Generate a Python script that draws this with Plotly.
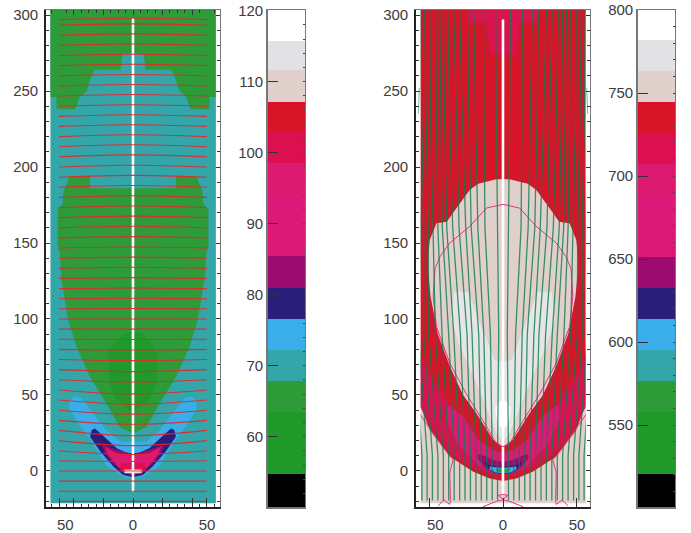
import plotly.graph_objects as go

# ---------- data ----------
BAND_COLORS = ["#000000", "#1f9a2a", "#1f9a2a", "#2d9c38", "#33a6a9", "#3aaeea", "#291f7b", "#9c0c6f",
               "#dc1a75", "#dc1a78", "#dc1a70", "#dc1050", "#d81428", "#e0d0cb", "#e2e2e4", "#ffffff"]
CB1_EDGES = [50.1, 54.75, 59.1, 63.5, 67.9, 72.2, 76.6, 81.0, 85.4, 89.7, 94.1, 98.5, 102.9, 107.2, 111.6, 115.8, 120.1]
CB2_EDGES = [500.6, 520.4, 539.1, 557.8, 576.5, 595.2, 613.8, 632.5, 651.2, 669.9, 688.6, 707.2, 725.9, 744.6, 763.3, 781.8, 800.0]
CB1_TICKS = [60, 70, 80, 90, 100, 110, 120]
CB2_TICKS = [550, 600, 650, 700, 750, 800]
XTICKS = [-50, -40, -20, 0, 20, 40, 50]
XTEXT = ["\u00a0\u00a0\u00a050", "", "", "0", "", "", "50"]
XTEXT_R = ["\u00a0\u00a0\u00a050", "0", "50"]

# Half outlines (x, y) of the symmetric regions; each is mirrored about x = 0.
L_GREEN_TOP = [(0, 304), (-55.8, 304), (-55.8, 246), (-51.7, 246), (-51.7, 238), (-39.2, 238), (-35.9, 246),
               (-31.4, 250), (-28, 260), (-25.8, 264), (-8.4, 264), (-7.7, 271), (-6.6, 274.5), (0, 274.5)]
L_GREEN_MID = [(0, 186), (-29, 186), (-29, 194), (-42.6, 194), (-47, 184), (-47.4, 176), (-51, 172), (-51, 148),
               (-49.5, 143), (-48.3, 125.6), (-43.8, 99.4), (-38.2, 81.8), (-29.2, 62), (-18, 44.6), (-9, 29),
               (-2.3, 25.6), (0, 25.2)]
L_GREEN_CORE = [(0, 91.7), (-5, 91), (-11.2, 86), (-16.9, 77.4), (-15.8, 57.6), (-11.2, 46.9), (-2.3, 40), (0, 40)]
L_SKY = [(0, 19.3), (-9, 19.3), (-18, 27), (-27, 38), (-35, 48), (-39, 49), (-43, 46), (-42.7, 40.5), (-36, 29.7),
         (-29, 20.8), (-18, 3.5), (-6.8, -3.7), (0, -5)]
L_NAVY = [(0, 11.6), (-4.3, 12), (-11, 14.9), (-20, 23), (-25.7, 28), (-27.9, 27), (-29, 22.6), (-22, 12.7),
          (-13.3, 2.9), (-6.6, -2.6), (0, -4.2)]
L_PURPLE = [(0, 11), (-11, 13.9), (-21, 17.4), (-19, 11.6), (-13.3, 5), (-6.6, -0.5), (0, -3.3)]
L_PINK = [(0, 10), (-11, 11.6), (-19, 16), (-16.7, 10.5), (-10, 2.8), (-5.5, -1), (0, -2.6)]
L_CRIMSON = [(0, 5.6), (-7.7, 5), (-9, 2), (-6.6, -1), (0, -2)]
L_BEIGE = [(0, 1), (-5.9, 1), (-5.9, -1.5), (0, -1.5)]
L_WHITE = [(0, 0.3), (-4.7, 0.3), (-4.7, -0.9), (0, -0.9)]

R_RED = [(0, 304), (-55.8, 304), (-55.8, 43.4), (-49.5, 27), (-36, 9.5), (-20.3, -0.4), (-9, -4.9), (0, -6.6)]
R_TOP = [(0, 274), (-9, 274), (-9, 284), (-11, 284), (-11, 295), (-23.6, 295), (-23.6, 304), (0, 304)]
R_CRIMSON = [(0, -4), (-9, -2.5), (-24.7, 4), (-36.7, 13.8), (-50, 31.6), (-55.8, 42), (-55.8, 74), (-47.7, 60),
             (-36.7, 44.7), (-25, 31.6), (-16.4, 20.4), (-8, 12), (0, 10.5)]
R_PINK = [(0, 12), (-7, 14), (-16, 20), (-27, 36), (-37, 43.4), (-39, 36), (-31, 18.3), (-16, 3), (-2, -1), (0, -1)]
R_LENS = [(0, 16), (-6.7, 20.6), (-18, 38), (-27, 50), (-36, 69), (-44, 90), (-49, 115), (-50.6, 132), (-50.6, 141),
          (-49.5, 152), (-45, 163), (-38, 164), (-31.4, 173), (-22.4, 185), (-16.8, 189), (-4.5, 192), (0, 192)]
R_GRAY = [(0, 20), (-4.5, 25), (-9, 36), (-19, 60), (-30, 84), (-35, 100), (-33, 118), (-23.6, 118), (-14.6, 95),
          (-5.6, 73), (0, 72)]
R_WHITE = [(0, 28), (-3, 30), (-5, 38), (-5, 42), (-2, 46), (0, 46)]
R_PURPLE = [(0, 6), (-6, 7), (-13, 10), (-17, 11), (-17, 8), (-12, 2), (-6, -1), (0, -2)]
R_NAVY = [(0, 3), (-4, 3), (-9, 4), (-12.5, 6.5), (-12, 4), (-8, 0), (-4, -1.5), (0, -2)]
R_SKY = [(0, 2), (-5, 2.5), (-9, 3), (-9, 1), (-5, -1), (0, -1.5)]
R_GREEN = [(0, 1.5), (-5, 1.5), (-4, 0), (-2, -1), (0, -1)]

CONTOUR_MAIN = [(0, 16), (-4.5, 18), (-11, 29), (-25, 51), (-36, 71), (-45, 95), (-47.2, 115), (-46, 133), (-42.6, 141),
                (-36, 150), (-22.4, 161), (-11.2, 173), (0, 175.4)]
CONTOUR_SIDE = [(-56.7, 38), (-47, 25), (-40.5, 15.6), (-33.7, 7.4), (-36, -1.2), (-35.5, -18.9), (-36, -22),
                (-40, -19), (-44, -23)]
CONTOUR_FOOT = [(-13.5, -23.5), (-4.5, -20), (0, -19)]
CONTOUR_CAP = [(0, -18.5), (-3.4, -16), (0, -15.5)]
EDGE_ARC = [(-57.2, 235), (-56.6, 252)]

# Red (left panel) lines: height at x = +-50 and height at x = 0.
RED_EDGE = [-20, -13.3, -6.7, 0, 6.7, 13.3, 20, 26.7, 33.3, 40, 46.7, 53.3, 60, 66.7, 73.3, 80, 86.7, 93.3, 100,
            106.7, 113.3, 120, 126.7, 133.3, 140, 146.7, 153.3, 160, 166.7, 173.3, 180, 186.7, 193.3, 200, 206.7,
            213.3, 220, 226.7, 233.3, 240, 246.7, 253.3, 260, 266.7, 273.3, 280, 286.7, 293.3, 297]
RED_CENTER = [-20, -13.3, -6.7, 0, 6.3, 10.8, 16.7, 23.2, 30.7, 37.4, 43.9, 50.7, 58.5, 65.4, 72.6, 79.6, 86.5, 93.3,
              100, 106.9, 113.6, 120.4, 127.2, 134, 140.7, 147.4, 154.2, 161, 167.7, 174.3, 181.1, 187.8, 194.5,
              201.2, 208, 214.6, 221.2, 227.8, 234.4, 241, 247.7, 254.3, 260.9, 267.6, 274.2, 280.9, 287.6, 294.2, 297.9]

# Green (right panel) lines: x at each height, for the left half.
GREEN_Y = [-19.5, 10, 90, 160, 232, 304]
GREEN_X = [
    [-3.7, -3.7, -2.9, -3.9, -4.5, -5],
    [-7.3, -7.3, -8.5, -12.2, -12.8, -13.2],
    [-11, -11, -13, -17, -18.5, -19.8],
    [-14.7, -14.7, -16.4, -21.5, -23, -24],
    [-18.3, -18.3, -20.9, -25.2, -27.5, -29.3],
    [-22, -22, -24.3, -29.7, -31.5, -33.3],
    [-25.7, -25.7, -28.8, -34, -36, -37.4],
    [-29.3, -29.3, -33.3, -38, -39.5, -40.3],
    [-33, -33, -36.7, -41, -42, -42.8],
    [-36.7, -36.7, -41.2, -44, -45, -45.5],
    [-40.3, -40.3, -45.7, -47.5, -49, -49.5],
    [-44, -44, -50.2, -50.5, -52, -53],
    [-47.7, -47.7, -53.6, -53.5, -55, -55.6],
    [-51.3, -51.3, -57, -56, -57.5, -58],
    [-54.8, -54.8, -60, -59, -59.5, -60],
]

# ---------- layout constants ----------
W, H = 691, 533
TOP, BOT = 10, 507
XR, YR = [-58.8, 58.8], [-23.7, 303.3]
FONT = "Liberation Sans, Arial, sans-serif"
TXT = "#3c3c3c"
TEAL, GREEN2, GREEN1, SKY, NAVY, PURPLE, PINK, CRIMSON, RED, BEIGE, GRAY = (
    "#33a6a9", "#2d9c38", "#1f9a2a", "#3aaeea", "#291f7b", "#9c0c6f", "#dc1a75", "#dc1050", "#d81428", "#e0d0cb", "#e5e6e7")


def mirrored(half):
    xs = [p[0] for p in half] + [-p[0] for p in reversed(half)]
    ys = [p[1] for p in half] + [p[1] for p in reversed(half)]
    return xs, ys


def area(fig, half, color, axis):
    xs, ys = mirrored(half)
    fig.add_trace(go.Scatter(x=xs, y=ys, fill="toself", fillcolor=color, mode="none", hoverinfo="skip",
                             showlegend=False, xaxis="x" + axis, yaxis="y" + axis))


def rect(fig, x0, x1, y0, y1, color, axis):
    fig.add_trace(go.Scatter(x=[x0, x1, x1, x0, x0], y=[y0, y0, y1, y1, y0], fill="toself", fillcolor=color,
                             mode="none", hoverinfo="skip", showlegend=False, xaxis="x" + axis, yaxis="y" + axis))


def line(fig, xs, ys, color, width, axis, shape="linear"):
    fig.add_trace(go.Scatter(x=xs, y=ys, mode="lines", line=dict(color=color, width=width, shape=shape),
                             hoverinfo="skip", showlegend=False, xaxis="x" + axis, yaxis="y" + axis))


fig = go.Figure()

# Left panel
rect(fig, -55.8, 56, -21.2, 304, TEAL, "")
for half, col in [(L_GREEN_TOP, GREEN2), (L_GREEN_MID, GREEN2), (L_GREEN_CORE, GREEN1), (L_SKY, SKY), (L_NAVY, NAVY),
                  (L_PURPLE, PURPLE), (L_PINK, PINK), (L_CRIMSON, CRIMSON), (L_BEIGE, BEIGE), (L_WHITE, "#ffffff")]:
    area(fig, half, col, "")
line(fig, [0, 0], [-13.6, 298], "#ffffff", 2.6, "")
rx, ry = [], []
for e, c in zip(RED_EDGE, RED_CENTER):
    rx += [-50, 0, 50, None]
    ry += [e, c, e, None]
line(fig, rx, ry, "rgba(232,36,44,0.9)", 1.1, "", "spline")

# Right panel
rect(fig, -55.8, 56, -21.2, 304, BEIGE, "3")
for half, col in [(R_RED, RED), (R_TOP, "#d81450"), (R_CRIMSON, CRIMSON), (R_PINK, PINK), (R_PURPLE, PURPLE),
                  (R_NAVY, NAVY), (R_SKY, SKY), (R_GREEN, GREEN2), (R_LENS, BEIGE), (R_GRAY, GRAY),
                  (R_WHITE, "#ffffff")]:
    area(fig, half, col, "3")
line(fig, [0, 0], [-16, 297], "#ffffff", 2.6, "3")
cx, cy = mirrored(CONTOUR_MAIN)
line(fig, cx, cy, "#e8308f", 1, "3")
for part in (CONTOUR_SIDE, CONTOUR_FOOT, CONTOUR_CAP):
    px = [p[0] for p in part]
    py = [p[1] for p in part]
    if part is CONTOUR_SIDE:
        line(fig, px + [None] + [-v for v in px], py + [None] + py, "#e8308f", 1, "3")
    else:
        m = mirrored(part)
        line(fig, m[0], m[1], "#e8308f", 1, "3")
gx, gy = [], []
for row in GREEN_X:
    gx += row + [None] + [-v for v in row] + [None]
    gy += GREEN_Y + [None] + GREEN_Y + [None]
line(fig, gx, gy, "rgba(15,122,75,0.8)", 1.3, "3")
# the lines stop at the edge of the filled field
rect(fig, -59, -55.8, -24, 304, "#ffffff", "3")
rect(fig, 56, 59, -24, 304, "#ffffff", "3")
ax_, ay_ = [p[0] for p in EDGE_ARC], [p[1] for p in EDGE_ARC]
line(fig, ax_ + [None] + [-v for v in ax_], ay_ + [None] + ay_, "rgba(90,170,140,0.8)", 1, "3")

# Colour bars
for axis, edges in (("2", CB1_EDGES), ("4", CB2_EDGES)):
    for i, col in enumerate(BAND_COLORS):
        fig.add_trace(go.Bar(x=[0.5], y=[edges[i + 1] - edges[i]], base=[edges[i]], width=[1], marker=dict(color=col, line_width=0),
                             hoverinfo="skip", showlegend=False, xaxis="x" + axis, yaxis="y" + axis))

# Dummy traces that carry the frame axes
for i in (5, 6, 7, 8):
    fig.add_trace(go.Scatter(x=[None], y=[None], mode="lines", showlegend=False, hoverinfo="skip", xaxis=f"x{i}", yaxis=f"y{i}"))


def dom_x(a, b):
    return [a / W, b / W]


DOM_Y = [1 - BOT / H, 1 - TOP / H]
five = [v for v in range(-55, 60, 5) if v not in XTICKS]
ytick10 = [v for v in range(-20, 310, 10) if v % 50]
font = dict(family=FONT, size=15, color=TXT)

layout = dict(width=W, height=H, margin=dict(l=0, r=0, t=0, b=0), paper_bgcolor="white", plot_bgcolor="white",
              showlegend=False, barmode="overlay", bargap=0, template=None, font=dict(family=FONT))

BLACK = "#222222"
FRAME = "#777777"
panel = dict(showgrid=False, zeroline=False)

def panel_axes(a, main, top, xdom, xticks, xtext, minor_x):
    layout["xaxis" + a] = dict(domain=xdom, range=XR, anchor="y" + a, showline=True, linecolor=BLACK, linewidth=1.6, ticks="inside",
                               ticklen=9, tickwidth=1, tickcolor="#333333", tickvals=xticks, ticktext=xtext, tickangle=0,
                               ticklabelstandoff=3, tickfont=font, **panel,
                               minor=dict(tickvals=minor_x, ticks="inside", ticklen=3, tickcolor="#333333", tickwidth=1, showgrid=False) if minor_x else None)
    layout["yaxis" + a] = dict(domain=DOM_Y, range=YR, anchor="x" + a, showline=True, linecolor=BLACK, linewidth=1.6, ticks="inside",
                               ticklen=4, tickwidth=1.2, tickcolor="#333333", tickvals=[0, 50, 100, 150, 200, 250, 300], ticklabelstandoff=3, tickfont=font, **panel,
                               minor=dict(tickvals=ytick10, ticks="inside", ticklen=3, tickcolor="#333333", tickwidth=1, showgrid=False))
    layout[f"xaxis{top}"] = dict(domain=xdom, range=XR, overlaying="x" + a, side="top", anchor=f"y{top}", showline=True, linecolor=FRAME, linewidth=1.2,
                                 ticks="inside" if minor_x else "", ticklen=5, tickwidth=1, tickcolor="#333333",
                                 tickvals=[-40, -20, 0, 20, 40] if minor_x else [-50, 0, 50], showticklabels=False, **panel,
                                 minor=dict(tickvals=minor_x, ticks="inside", ticklen=3, tickcolor="#333333", tickwidth=1, showgrid=False) if minor_x else None)
    layout[f"yaxis{top}"] = dict(domain=DOM_Y, range=YR, overlaying="y" + a, side="right", anchor=f"x{top}", showline=True, linecolor=FRAME, linewidth=1.2,
                                 ticks="inside", ticklen=4, tickwidth=1.2, tickcolor="#333333", tickvals=[0, 50, 100, 150, 200, 250, 300],
                                 showticklabels=False, **panel,
                                 minor=dict(tickvals=ytick10, ticks="inside", ticklen=3, tickcolor="#333333", tickwidth=1, showgrid=False))


def bar_axes(a, over, xdom, yr, ticks, minor_step):
    layout["xaxis" + a] = dict(domain=xdom, range=[0, 1], anchor="y" + a, showline=True, linecolor=FRAME, linewidth=1.6, ticks="", showticklabels=False, **panel)
    layout["yaxis" + a] = dict(domain=DOM_Y, range=yr, anchor="x" + a, showline=True, linecolor=FRAME, linewidth=1.6, ticks="inside", ticklen=10, tickwidth=1,
                               tickcolor="#333333", tickvals=ticks, tickfont=font, **panel)
    layout[f"xaxis{over}"] = dict(domain=xdom, range=[0, 1], overlaying="x" + a, side="top", anchor=f"y{over}", showline=True, linecolor=FRAME, linewidth=1.2, ticks="", showticklabels=False, **panel)
    layout[f"yaxis{over}"] = dict(domain=DOM_Y, range=yr, overlaying="y" + a, side="right", anchor=f"x{over}", showline=True, linecolor=FRAME, linewidth=1.2,
                                  ticks="inside", ticklen=2, tickwidth=1, tickcolor="#444444", tick0=0, dtick=minor_step, showticklabels=False, **panel)


panel_axes("", 1, 5, dom_x(46, 220), XTICKS, XTEXT, five)
panel_axes("3", 3, 7, dom_x(416, 590), [-50, 0, 50], XTEXT_R, None)
bar_axes("2", 6, dom_x(268, 305), [CB1_EDGES[0], CB1_EDGES[-1]], CB1_TICKS, 2)
bar_axes("4", 8, dom_x(638, 675), [CB2_EDGES[0], CB2_EDGES[-1]], CB2_TICKS, 10)

for ax in list(layout):
    if ax.startswith("xaxis") and layout[ax].get("minor") is None:
        layout[ax].pop("minor", None)

fig.update_layout(**layout)
fig.write_html("out.html", config={"displayModeBar": False},
               post_script="document.body.style.margin='0';document.body.style.overflow='hidden';window.dispatchEvent(new Event('resize'));")
